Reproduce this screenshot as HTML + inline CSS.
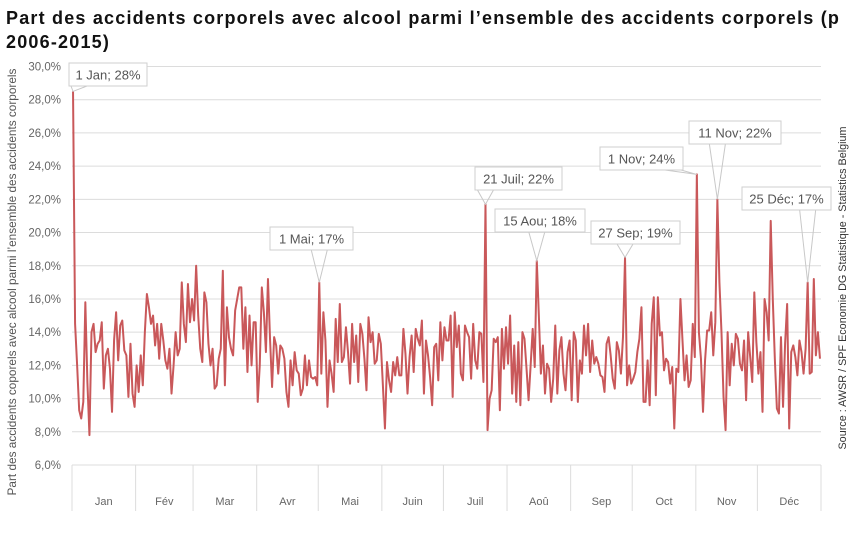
<!DOCTYPE html>
<html><head><meta charset="utf-8">
<style>
body{margin:0;background:#fff;width:860px;height:535px;overflow:hidden;font-family:"Liberation Sans",sans-serif}
#title{position:absolute;left:6px;top:6px;font-weight:bold;font-size:18px;line-height:24px;color:#111;white-space:nowrap;letter-spacing:1.2px}
svg{position:absolute;left:0;top:0}
</style></head><body>
<div id="title">Part des accidents corporels avec alcool parmi l’ensemble des accidents corporels (p<br>2006-2015)</div>
<svg id="chart" width="860" height="535"></svg>
<script>
const months=["Jan","Fév","Mar","Avr","Mai","Juin","Juil","Aoû","Sep","Oct","Nov","Déc"];
const monthDays=[31,28,31,30,31,30,31,31,30,31,30,31];
const yTicks=[6,8,10,12,14,16,18,20,22,24,26,28,30];
const jan=[28.5,14.5,12,9.3,8.8,9.8,15.8,11,7.8,14,14.5,12.8,13.3,13.5,14.6,10.6,12.6,13,11.8,9.2,13.5,15.2,12.3,14.4,14.7,12.9,12.6,10.1,13.3,10.3,9.5];
const feb=[12,10.4,12.6,10.8,14,16.3,15.5,14.5,15,13.2,14.5,12.4,14.5,13.5,12.3,11.8,13,10.3,12,14,12.6,13,17,14.5,13.4,16.9,14.6,16];
const mar=[14.7,18,15,13,12.2,16.4,15.8,13.3,12,13,10.6,10.8,12.4,13,17.7,10.8,15.5,13.7,13,12.6,15.3,16,16.7,16.7,13,15.5,11.6,15,12,14.6,14.6];
const apr=[9.8,12,16.7,15.2,12.8,17.2,13.6,10.7,13.7,13.2,11.5,13.2,13,12.4,10.4,9.5,12.3,10.8,12.8,11.7,11.5,10.2,10.6,12.6,10.8,12.3,11.3,11.2,11.3,10.8];
const may=[17,11.5,15.2,13.5,9.5,12.3,11.5,10.4,14.8,12.2,15.7,12.2,12.5,14.3,12.8,10.9,14.5,12.2,13.8,11,14.5,13.9,12.4,10.5,14.9,13.4,14,12.1,12.3,13.9,13.3];
const jun=[10.8,8.2,12.2,11.1,10.4,12.2,11.4,12.5,11.4,11.4,14.2,12.7,10.3,12.5,13.8,11.6,14.2,13.6,13.2,14.7,10.3,13.5,12.6,11.3,9.6,13.1,13.3,11.1,14.6,12.3];
const jul=[14.3,13.5,13.5,15,10.1,15.2,13.1,14.4,11.5,11.1,14.4,14,13.7,11.2,14.5,12.3,11.8,14,13.9,11,21.7,8.1,10,10.5,13.6,13.4,13.7,9.3,14.2,11.8,14.3];
const aug=[12.1,15,10.3,13.2,9.8,13.4,9.6,14,13.6,11.8,9.9,12,14.2,11.9,18.3,15,11.5,13.2,10.3,12.1,11.8,9.8,11.2,14.4,10.3,12.9,13.7,11.5,10.5,12.8,13.5];
const sep=[9.9,14,13.5,9.8,12.3,11.5,14.4,12.6,14.5,11.6,13.5,12.1,12.5,12.1,11.4,11.3,10.4,13.3,13.7,12.6,11.2,10.6,13.4,12.9,11.5,13.7,18.5,10.8,12,10.9];
const oct=[11.2,11.6,12.8,13.6,15.5,9.8,9.8,12.3,9.6,14.5,16.1,10.2,16.1,13.8,14,11.7,12.4,12.2,10.9,11.9,8.2,11.8,11.6,16,13.5,11.1,12.6,10.7,11.1,14.5,12.5];
const nov=[23.5,14,12.4,9.2,12.3,14.1,14.1,15.2,12.6,14.6,22,17,14,10.1,8.1,14,10.8,13.3,12,13.9,13.6,12.1,11.7,13.5,9.9,14,12.5,11,16.4,13.4];
const dec=[11.5,12.8,9.2,16,15.2,13.5,20.7,16,12.4,9.4,9.1,13.7,9.5,13.3,15.7,8.2,12.8,13.2,12.5,11.4,13.5,12.8,11.5,13,17,11.5,11.6,17.2,12.6,14,12.4];
const values=[].concat(jan,feb,mar,apr,may,jun,jul,aug,sep,oct,nov,dec);
const annLabels=["1 Jan; 28%","1 Mai; 17%","21 Juil; 22%","15 Aou; 18%","27 Sep; 19%","1 Nov; 24%","11 Nov; 22%","25 Déc; 17%"];
const annDays=[0,120,201,226,269,304,314,358];

const NS="http://www.w3.org/2000/svg";
const svg=document.getElementById('chart');
const X0=72,X1=821,Y30=66.5,Y6=465;
const nDays=values.length;
function xs(i){return X0+(i+0.5)*(X1-X0)/nDays;}
function ys(v){return Y6-(v-6)*(Y6-Y30)/24;}
function mk(tag,attrs,parent){const e=document.createElementNS(NS,tag);for(const k in attrs)e.setAttribute(k,attrs[k]);(parent||svg).appendChild(e);return e;}

yTicks.forEach(t=>{
  const g=mk('line',{x1:X0,x2:X1,y1:ys(t),y2:ys(t),stroke:'#dcdcdc','stroke-width':1});
  
  
  const tx=mk('text',{x:61,y:ys(t)+4,'text-anchor':'end','font-size':11.5,fill:'#666','font-family':'Liberation Sans, sans-serif'});
  tx.textContent=t.toFixed(1).replace('.',',')+'%';
  
  
});
let cum=0;
const totalDays=monthDays.reduce((a,b)=>a+b,0);
function xb(d){return X0+d*(X1-X0)/totalDays;}
for(let m=0;m<=12;m++){
  const sep=mk('line',{x1:xb(cum),x2:xb(cum),y1:Y6,y2:511,stroke:'#dcdcdc','stroke-width':1});
  
  
  if(m<12){
    const lb=mk('text',{x:(xb(cum)+xb(cum+monthDays[m]))/2,y:505,'text-anchor':'middle','font-size':11,fill:'#666','font-family':'Liberation Sans, sans-serif'});
    lb.textContent=months[m];
    
    
    cum+=monthDays[m];
  }
}
let d='';
values.forEach((v,i)=>{d+=(i?'L':'M')+xs(i).toFixed(2)+','+ys(v).toFixed(2);});
const line=mk('path',{d:d,fill:'none',stroke:'#c9585a','stroke-width':2,'stroke-linejoin':'round'});



const boxes=[[69,63,78],[270,227,83],[475,167,87],[495,209,90],[591,221,89],[600,147,83],[689,121,92],[742,187,89]];
annLabels.forEach((lab,k)=>{
  const [bx,by,bw]=boxes[k];const bh=23;
  const px=xs(annDays[k]),py=ys(values[annDays[k]]);
  const cx=Math.min(Math.max(px,bx+10),bx+bw-10);
  const ld=mk('polyline',{points:`${cx-8},${by+bh} ${px},${py} ${cx+8},${by+bh}`,fill:'none',stroke:'#c8c8c8','stroke-width':1});
  
  
  const r=mk('rect',{x:bx,y:by,width:bw,height:bh,fill:'#fff',stroke:'#cfcfcf','stroke-width':1});
  
  
  const t=mk('text',{x:bx+bw/2,y:by+16.5,'text-anchor':'middle','font-size':13,fill:'#555','font-family':'Liberation Sans, sans-serif'});
  t.textContent=lab;
  
  
});
const yt=mk('text',{transform:'translate(16,282) rotate(-90)','text-anchor':'middle','font-size':11.8,fill:'#555','font-family':'Liberation Sans, sans-serif'});
yt.textContent='Part des accidents coporels avec alcool parmi l’ensemble des accidents corporels';


const src=mk('text',{transform:'translate(846,288) rotate(-90)','text-anchor':'middle','font-size':10.8,fill:'#333','font-family':'Liberation Sans, sans-serif'});
src.textContent='Source : AWSR / SPF Economie DG Statistique - Statistics Belgium';


</script>
</body></html>
